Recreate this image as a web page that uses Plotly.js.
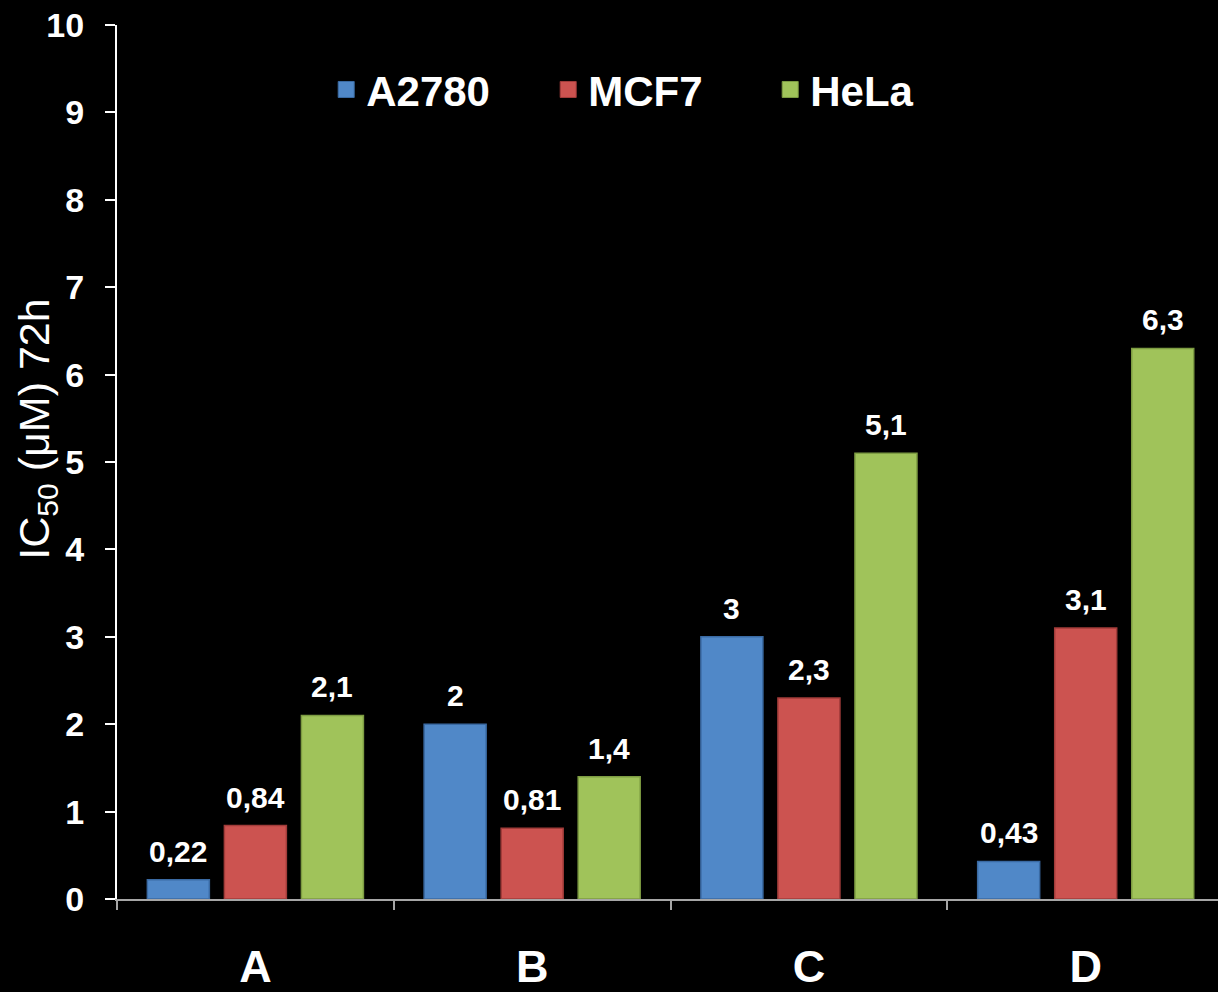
<!DOCTYPE html>
<html>
<head>
<meta charset="utf-8">
<script src="https://cdn.plot.ly/plotly-3.0.1.min.js"></script>
<style>
  html, body { margin: 0; padding: 0; background: #000; }
  #chart { width: 1218px; height: 992px; }
</style>
</head>
<body>
<div id="chart"></div>
<script>
// IC50 values (µM, 72 h) per compound and cell line
const categories = ['A', 'B', 'C', 'D'];
const seriesNames = ['A2780', 'MCF7', 'HeLa'];
const a2780 = [0.22, 2, 3, 0.43];
const mcf7 = [0.84, 0.81, 2.3, 3.1];
const hela = [2.1, 1.4, 5.1, 6.3];
const yTicks = [0, 1, 2, 3, 4, 5, 6, 7, 8, 9, 10];

const seriesValues = [a2780, mcf7, hela];
const fills = ['#5088c8', '#cc5350', '#a0c35a'];
const edges = ['#3a6aa3', '#a23c3a', '#7d9c42'];

const FONT = '"Liberation Sans", Arial, sans-serif';
const BARGAP = 0.165;
const BARGROUPGAP = 0.195;

// decimal comma, as used in the labels
const fmt = v => String(v).replace('.', ',');

const traces = [];
seriesValues.forEach((vals, i) => {
  traces.push({
    type: 'bar',
    name: seriesNames[i],
    x: categories,
    y: vals,
    marker: { color: fills[i], line: { color: edges[i], width: 1.5 } },
    showlegend: false,
    hoverinfo: 'x+y+name'
  });
});
// legend entries with larger square swatches
seriesValues.forEach((vals, i) => {
  traces.push({
    type: 'scatter',
    mode: 'markers',
    name: seriesNames[i],
    x: [null],
    y: [null],
    marker: { symbol: 'square', size: 22, color: fills[i], line: { color: edges[i], width: 1 } },
    showlegend: true,
    hoverinfo: 'skip'
  });
});

// value labels above each bar, centred on the bar's slot inside its group
const slot = (1 - BARGAP) / seriesValues.length;
const annotations = [];
seriesValues.forEach((vals, i) => {
  vals.forEach((v, j) => {
    annotations.push({
      x: j + (i - (seriesValues.length - 1) / 2) * slot,
      y: v,
      xref: 'x',
      yref: 'y',
      text: fmt(v),
      showarrow: false,
      yanchor: 'bottom',
      yshift: 10,
      font: { family: FONT, size: 30, color: '#ffffff', weight: 'bold' }
    });
  });
});

// y-axis title, rotated alongside the axis
annotations.push({
  xref: 'paper',
  yref: 'paper',
  x: 0,
  y: 0.537,
  xanchor: 'center',
  yanchor: 'middle',
  xshift: -80,
  textangle: -90,
  showarrow: false,
  text: 'IC<sub>50</sub> (μM) 72h',
  font: { family: FONT, size: 43, color: '#ffffff' }
});

const layout = {
  width: 1218,
  height: 992,
  paper_bgcolor: '#000000',
  plot_bgcolor: '#000000',
  margin: { l: 117, r: 0, t: 25, b: 93 },
  barmode: 'group',
  bargap: BARGAP,
  bargroupgap: BARGROUPGAP,
  font: { family: FONT, color: '#ffffff' },
  showlegend: true,
  legend: {
    orientation: 'h',
    x: 0.19,
    xanchor: 'left',
    y: 0.926,
    yanchor: 'middle',
    bgcolor: 'rgba(0,0,0,0)',
    font: { family: FONT, size: 42, color: '#ffffff', weight: 'bold' },
    entrywidth: 177,
    entrywidthmode: 'pixels',
    itemsizing: 'trace'
  },
  xaxis: {
    type: 'category',
    range: [-0.5, 3.478],
    showline: true,
    linecolor: '#a6a6a6',
    linewidth: 2,
    ticks: 'outside',
    tickson: 'boundaries',
    ticklen: 9,
    tickwidth: 2,
    tickcolor: '#a6a6a6',
    showgrid: false,
    zeroline: false,
    ticklabelstandoff: 27,
    tickfont: { family: FONT, size: 45, color: '#ffffff', weight: 'bold' }
  },
  yaxis: {
    range: [0, 10],
    tickmode: 'array',
    tickvals: yTicks,
    ticktext: yTicks.map(String),
    showline: true,
    linecolor: '#ffffff',
    linewidth: 2,
    ticks: 'outside',
    ticklen: 10,
    tickwidth: 2,
    tickcolor: '#ffffff',
    showgrid: false,
    zeroline: false,
    ticklabelstandoff: 14,
    tickfont: { family: FONT, size: 34, color: '#ffffff', weight: 'bold' }
  },
  annotations: annotations
};

Plotly.newPlot('chart', traces, layout, { displayModeBar: false, staticPlot: true });
</script>
</body>
</html>
